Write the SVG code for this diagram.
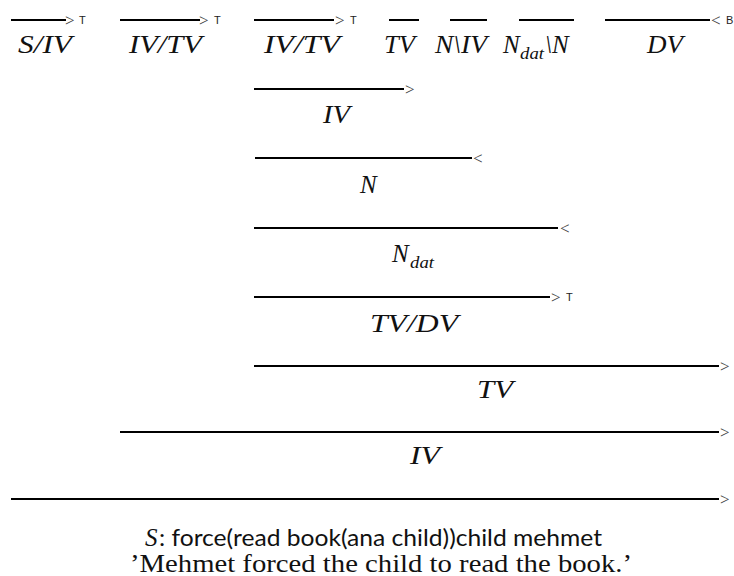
<svg xmlns="http://www.w3.org/2000/svg" width="734" height="576" viewBox="0 0 734 576">
<style>
.ln{stroke:#000;stroke-width:2;fill:none}
.lab{font-family:'Liberation Serif',serif;font-style:italic;font-weight:normal;font-size:25px;fill:#111}
.sub{font-size:17px}
.arr{font-family:'Liberation Serif',serif;font-size:17px;fill:#444}
.tag{font-family:'Liberation Sans',sans-serif;font-size:11px;fill:#222}
.cap{font-family:'Liberation Serif',serif;font-size:25px;fill:#111}
.sans{font-family:Lato,'Open Sans',sans-serif;font-style:normal;font-size:23px}
</style>
<rect width="734" height="576" fill="#fff"/>
<g id="connectors">
<line class="ln" x1="11" y1="20" x2="66" y2="20"/>
<line class="ln" x1="120" y1="20" x2="200" y2="20"/>
<line class="ln" x1="254" y1="20" x2="334" y2="20"/>
<line class="ln" x1="389" y1="20" x2="419" y2="20"/>
<line class="ln" x1="450" y1="20" x2="487" y2="20"/>
<line class="ln" x1="519" y1="20" x2="574" y2="20"/>
<line class="ln" x1="605" y1="20" x2="710" y2="20"/>
<line class="ln" x1="254" y1="89" x2="404" y2="89"/>
<line class="ln" x1="255" y1="158" x2="472" y2="158"/>
<line class="ln" x1="254" y1="228" x2="558" y2="228"/>
<line class="ln" x1="254" y1="297" x2="550" y2="297"/>
<line class="ln" x1="254" y1="366" x2="719" y2="366"/>
<line class="ln" x1="120" y1="432" x2="719" y2="432"/>
<line class="ln" x1="11" y1="499" x2="719" y2="499"/>
</g>
<g id="rule-markers">
<text class="arr" x="65" y="26">&gt;</text><text class="tag" x="79" y="24">T</text>
<text class="arr" x="199" y="26">&gt;</text><text class="tag" x="214" y="24">T</text>
<text class="arr" x="335" y="26">&gt;</text><text class="tag" x="350" y="24">T</text>
<text class="arr" x="711" y="26">&lt;</text><text class="tag" x="726" y="24">B</text>
<text class="arr" x="405" y="95">&gt;</text>
<text class="arr" x="473" y="164">&lt;</text>
<text class="arr" x="560" y="234">&lt;</text>
<text class="arr" x="551" y="303">&gt;</text><text class="tag" x="566" y="301">T</text>
<text class="arr" x="720" y="372">&gt;</text>
<text class="arr" x="720" y="438">&gt;</text>
<text class="arr" x="720" y="505">&gt;</text>
</g>
<g id="n-s-iv"><text class="lab" x="18" y="53" textLength="54" lengthAdjust="spacingAndGlyphs">S/IV</text></g>
<g id="n-iv-tv-1"><text class="lab" x="129" y="53" textLength="73" lengthAdjust="spacingAndGlyphs">IV/TV</text></g>
<g id="n-iv-tv-2"><text class="lab" x="264" y="53" textLength="76" lengthAdjust="spacingAndGlyphs">IV/TV</text></g>
<g id="n-tv"><text class="lab" x="384" y="53" textLength="31" lengthAdjust="spacingAndGlyphs">TV</text></g>
<g id="n-n-iv"><text class="lab" x="435" y="53" textLength="52" lengthAdjust="spacingAndGlyphs">N\IV</text></g>
<g id="n-ndat-n"><text class="lab" y="53"><tspan x="503">N</tspan><tspan class="sub" x="520" y="59" textLength="24" lengthAdjust="spacingAndGlyphs">dat</tspan><tspan x="545" y="53">\N</tspan></text></g>
<g id="n-dv"><text class="lab" x="647" y="53" textLength="36" lengthAdjust="spacingAndGlyphs">DV</text></g>
<g id="n-iv-2"><text class="lab" x="323" y="123" textLength="27" lengthAdjust="spacingAndGlyphs">IV</text></g>
<g id="n-n-3"><text class="lab" x="360" y="193">N</text></g>
<g id="n-ndat-4"><text class="lab" y="262"><tspan x="392">N</tspan><tspan class="sub" x="410" y="268" textLength="24" lengthAdjust="spacingAndGlyphs">dat</tspan></text></g>
<g id="n-tv-dv-5"><text class="lab" x="370" y="332" textLength="88" lengthAdjust="spacingAndGlyphs">TV/DV</text></g>
<g id="n-tv-6"><text class="lab" x="477" y="398" textLength="36" lengthAdjust="spacingAndGlyphs">TV</text></g>
<g id="n-iv-7"><text class="lab" x="410" y="464" textLength="30" lengthAdjust="spacingAndGlyphs">IV</text></g>
<g id="n-result">
<text class="lab" x="145" y="546">S<tspan class="sans" x="159" textLength="443" lengthAdjust="spacingAndGlyphs">: force(read book(ana child))child mehmet</tspan></text>
<text class="cap" x="130" y="572" textLength="502" lengthAdjust="spacingAndGlyphs">’Mehmet forced the child to read the book.’</text>
</g>
</svg>
